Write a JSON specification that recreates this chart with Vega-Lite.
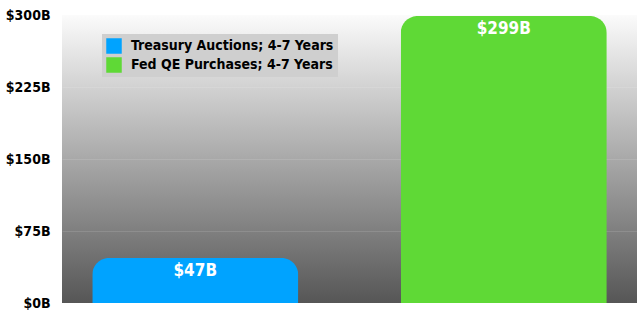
{
  "$schema": "https://vega.github.io/schema/vega-lite/v6.json",
  "autosize": {"type": "none"},
  "padding": {"left": 62, "top": 15, "right": 3, "bottom": 14},
  "width": 575,
  "height": 288,
  "background": "#ffffff",
  "data": {"values": [
    {"series": "Treasury Auctions; 4-7 Years", "value": 47, "label": "$47B"},
    {"series": "Fed QE Purchases; 4-7 Years", "value": 299, "label": "$299B"}
  ]},
  "config": {
    "view": {
      "stroke": null,
      "fill": {"gradient": "linear", "x1": 0, "y1": 0, "x2": 0, "y2": 1,
        "stops": [{"offset": 0, "color": "#fbfbfb"}, {"offset": 1, "color": "#565656"}]}
    },
    "font": "DejaVu Sans Condensed"
  },
  "encoding": {
    "x": {"field": "series", "type": "nominal", "sort": null,
      "scale": {"paddingInner": 0.332, "paddingOuter": 0.098},
      "axis": null},
    "y": {"field": "value", "type": "quantitative",
      "scale": {"domain": [0, 300], "nice": false},
      "axis": {"values": [0, 75, 150, 225, 300], "title": null, "domain": false, "ticks": false,
        "labelExpr": "'$' + datum.value + 'B'", "labelFont": "DejaVu Sans Condensed",
        "labelFontWeight": "bold", "labelFontSize": 14, "labelColor": "#000000", "labelPadding": 12,
        "gridColor": "#ffffff", "gridOpacity": 0.12, "gridWidth": 1}}
  },
  "layer": [
    {
      "mark": {"type": "bar", "cornerRadiusTopLeft": 17, "cornerRadiusTopRight": 17},
      "encoding": {
        "color": {"field": "series", "type": "nominal", "sort": null,
          "scale": {"domain": ["Treasury Auctions; 4-7 Years", "Fed QE Purchases; 4-7 Years"], "range": ["#00a3ff", "#5fd936"]},
          "legend": {"title": null, "orient": "none", "legendX": 40, "legendY": 19,
            "fillColor": "#cfcfcf", "padding": 4, "symbolType": "square", "symbolSize": 240,
            "symbolStrokeWidth": 0, "labelFont": "DejaVu Sans Condensed", "labelFontWeight": "bold",
            "labelFontSize": 14, "labelColor": "#000000", "rowPadding": 3, "labelOffset": 9, "labelLimit": 400}}
      }
    },
    {
      "mark": {"type": "text", "baseline": "top", "dy": 5, "color": "#ffffff",
        "font": "DejaVu Sans Condensed", "fontWeight": "bold", "fontSize": 17},
      "encoding": {"text": {"field": "label", "type": "nominal"}}
    }
  ]
}
